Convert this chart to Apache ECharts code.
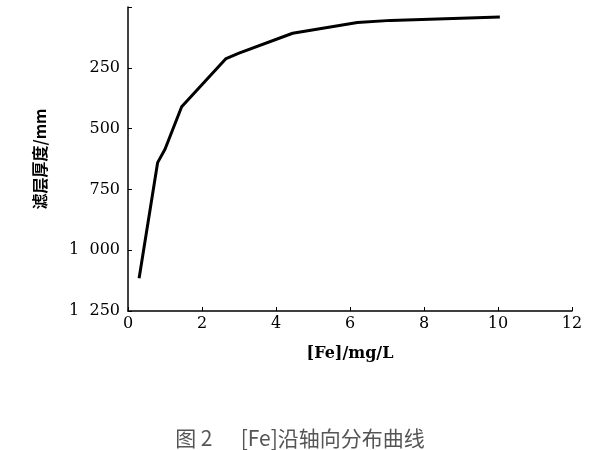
<!DOCTYPE html>
<html><head><meta charset="utf-8">
<script src="https://cdn.jsdelivr.net/npm/echarts@6/dist/echarts.min.js"></script>
<style>html,body{margin:0;padding:0;background:#fff}#c{width:600px;height:450px}</style>
</head><body><div id="c"></div>
<script>
var feConc = [0.3, 0.8, 1.0, 1.45, 2.65, 3.0, 4.45, 6.2, 7.1, 10.05];
var depth = [1115, 640, 585, 410, 212, 190, 108, 64, 55, 41];
var yTicks = ['', '250', '500', '750', '1  000', '1  250'];
var xName = '[Fe]/mg/L';
var yName = '滤层厚度/mm';
var caption = '图 2      [Fe]沿轴向分布曲线';

var chart = echarts.init(document.getElementById('c'));
var serif = 'DejaVu Serif, serif';
chart.setOption({
  animation: false,
  backgroundColor: '#fff',
  title: {text: caption, left: 'center', top: 423, textStyle: {fontFamily: 'Noto Sans CJK SC', fontSize: 21, fontWeight: 'normal', color: '#555'}},
  grid: {left: 128, right: 28, top: 7, bottom: 139},
  xAxis: {type: 'value', min: 0, max: 12, interval: 2,
    name: xName, nameLocation: 'middle', nameGap: 35,
    nameTextStyle: {fontFamily: serif, fontSize: 16, fontWeight: 'bold', color: '#000'},
    axisLine: {onZero: false, lineStyle: {color: '#000', width: 1.5}},
    axisTick: {inside: true, length: 4, lineStyle: {color: '#000'}},
    axisLabel: {fontFamily: serif, fontSize: 16, color: '#000', margin: 5},
    splitLine: {show: false}},
  yAxis: {type: 'value', min: 0, max: 1250, interval: 250, inverse: true,
    name: yName, nameLocation: 'middle', nameRotate: 90, nameGap: 80,
    nameTextStyle: {fontFamily: 'Noto Sans CJK SC', fontSize: 16, fontWeight: 'bold', color: '#000'},
    axisLine: {show: true, lineStyle: {color: '#000', width: 1.5}},
    axisTick: {show: true, inside: true, length: 4, lineStyle: {color: '#000'}},
    axisLabel: {fontFamily: serif, fontSize: 16, color: '#000', margin: 8,
      formatter: function (v) { return yTicks[Math.round(v / 250)]; }},
    splitLine: {show: false}},
  series: [{type: 'line', data: feConc.map(function (x, i) { return [x, depth[i]]; }),
    symbol: 'none', lineStyle: {color: '#000', width: 3}}]
});
</script></body></html>
